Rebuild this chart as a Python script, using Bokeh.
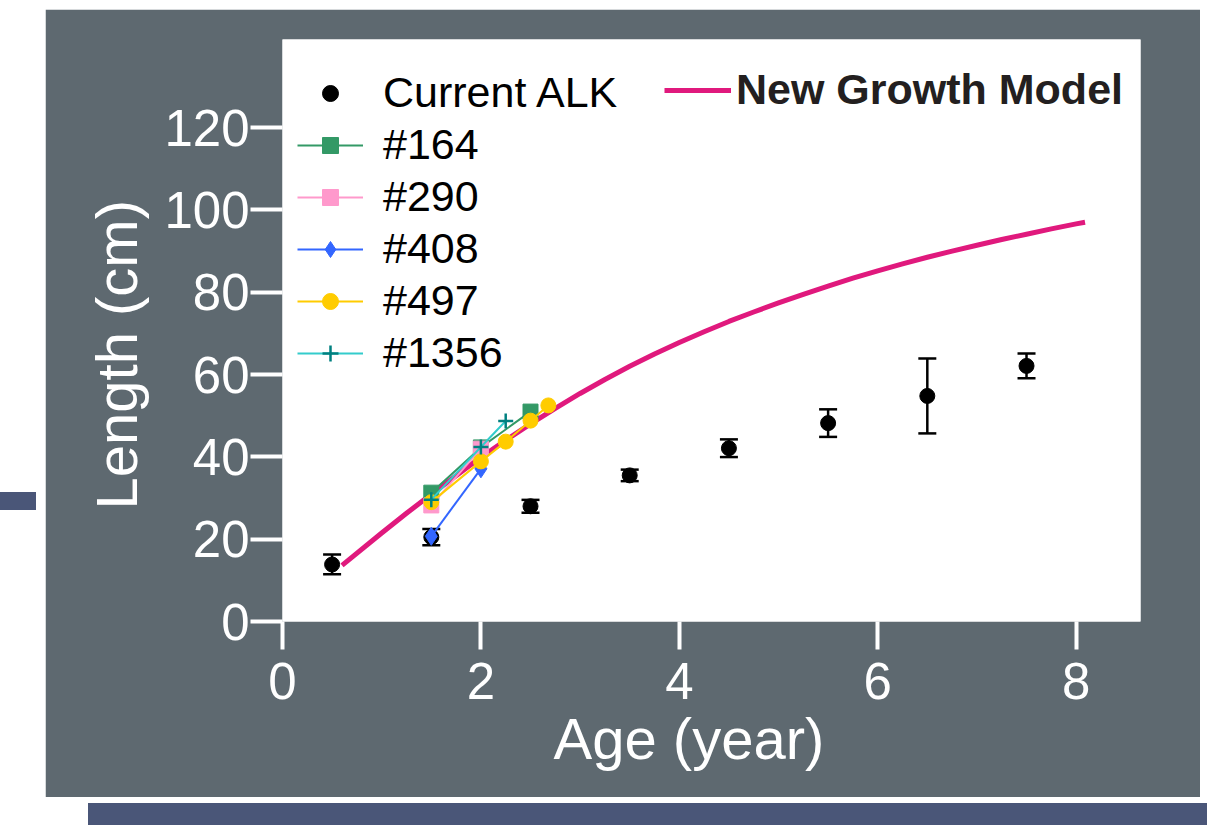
from bokeh.plotting import figure
from bokeh.models import (ColumnDataSource, Whisker, TeeHead, Legend, LegendItem,
                          FixedTicker, Range1d, Spacer, Div, Title)
from bokeh.layouts import column, row
from bokeh.embed import file_html
from bokeh.resources import INLINE

# ---------------- data ----------------
alk_age = [0.5, 1.5, 2.5, 3.5, 4.5, 5.5, 6.5, 7.5]
alk_len = [13.85, 20.5, 28.0, 35.5, 42.1, 48.2, 54.8, 62.1]
alk_err = [2.4, 2.0, 1.55, 1.4, 2.15, 3.35, 9.1, 3.0]

model_age = [0.6, 1.0, 1.25, 1.5, 1.75, 2.0, 2.25, 2.5, 2.75, 3.0, 3.25, 3.5, 3.75, 4.0,
             4.25, 4.5, 4.75, 5.0, 5.25, 5.5, 5.75, 6.0, 6.25, 6.5, 6.75, 7.0, 7.25,
             7.5, 7.75, 8.0, 8.09]
model_len = [13.65, 21.5, 26.3, 30.9, 35.4, 39.9, 44.0, 48.0, 51.8, 55.4, 58.8, 62.0, 65.0, 67.8,
             70.4, 72.9, 75.2, 77.4, 79.5, 81.5, 83.4, 85.2, 86.9, 88.5, 90.0, 91.4, 92.8,
             94.1, 95.4, 96.6, 97.0]

f164_age = [1.5, 2.0, 2.5]
f164_len = [31.3, 42.3, 51.0]
f290_age = [1.5, 2.0]
f290_len = [28.2, 42.0]
f408_age = [1.5, 2.0]
f408_len = [20.7, 37.1]
f497_age = [1.5, 2.0, 2.25, 2.5, 2.68]
f497_len = [29.0, 38.9, 43.7, 48.8, 52.5]
f1356_age = [1.5, 2.0, 2.25]
f1356_len = [29.6, 42.4, 48.7]

x_ticks = [0, 2, 4, 6, 8]
y_ticks = [0, 20, 40, 60, 80, 100, 120]
x_title = "Age (year)"
y_title = "Length (cm)"

# ---------------- style ----------------
GRAY = "#5e6970"
BAR_BLUE = "#4a5678"
MAGENTA = "#e0197d"
FONT = "Liberation Sans"

p = figure(width=1155, height=788, output_backend="svg", toolbar_location=None,
           x_range=Range1d(0, 8.649), y_range=Range1d(0, 141.4),
           border_fill_color=GRAY, background_fill_color="white",
           outline_line_color=None,
           min_border_left=237, min_border_right=60, min_border_top=30, min_border_bottom=176)
p.xgrid.visible = False
p.ygrid.visible = False

for ax, ticks, tout, lstand in ((p.xaxis[0], x_ticks, 28, 13), (p.yaxis[0], y_ticks, 32, 1)):
    ax.ticker = FixedTicker(ticks=ticks)
    ax.axis_line_color = None
    ax.major_tick_line_color = "white"
    ax.major_tick_line_width = 4
    ax.major_tick_in = 0
    ax.major_tick_out = tout
    ax.minor_tick_line_color = None
    ax.major_label_text_color = "white"
    ax.major_label_text_font = FONT
    ax.major_label_text_font_size = "51px"
    ax.major_label_standoff = lstand

# axis titles as side titles (allow an offset along the axis)
p.add_layout(Title(text=x_title, align="left", offset=271, vertical_align="top", standoff=8,
                   text_color="white", text_font=FONT, text_font_size="58px",
                   text_font_style="normal"), "below")
p.add_layout(Title(text=y_title, align="left", offset=112, vertical_align="bottom", standoff=26,
                   text_color="white", text_font=FONT, text_font_size="58px",
                   text_font_style="normal"), "left")

# growth model curve
curve = p.line(model_age, model_len, line_color=MAGENTA, line_width=5, line_join="round")

# Current ALK with error bars
alk_src = ColumnDataSource(dict(x=alk_age, y=alk_len,
                                upper=[v + e for v, e in zip(alk_len, alk_err)],
                                lower=[v - e for v, e in zip(alk_len, alk_err)]))
wh = Whisker(base="x", upper="upper", lower="lower", source=alk_src,
             line_color="black", line_width=2.5, level="underlay",
             upper_head=TeeHead(size=18, line_color="black", line_width=2.5),
             lower_head=TeeHead(size=18, line_color="black", line_width=2.5))
p.add_layout(wh)
alk = p.scatter("x", "y", source=alk_src, marker="circle", size=15, color="black")

# individual fish
series = [
    ("#164", f164_age, f164_len, "#339966", "#339966", "square", 15),
    ("#290", f290_age, f290_len, "#ff99cc", "#ff99cc", "square", 15),
    ("#408", f408_age, f408_len, "#3366ff", "#3366ff", "diamond", 18),
    ("#497", f497_age, f497_len, "#ffcc00", "#ffcc00", "circle", 15),
    ("#1356", f1356_age, f1356_len, "#33cccc", "#008080", "cross", 15),
]
items = [LegendItem(label="Current ALK", renderers=[alk])]
for name, xs, ys, lc, mc, mk, sz in series:
    ln = p.line(xs, ys, line_color=lc, line_width=2)
    if mk == "cross":
        sc = p.scatter(xs, ys, marker=mk, size=sz, line_color=mc, line_width=2.5)
    else:
        sc = p.scatter(xs, ys, marker=mk, size=sz, fill_color=mc, line_color=mc)
    items.append(LegendItem(label=name, renderers=[ln, sc]))

leg1 = Legend(items=items, location=(15, 244), orientation="vertical",
              glyph_width=66, glyph_height=40, label_height=48, spacing=3,
              label_standoff=20, padding=0, margin=0,
              border_line_color=None, background_fill_alpha=0,
              label_text_font=FONT, label_text_font_size="43px", label_text_color="black")
leg2 = Legend(items=[LegendItem(label="New Growth Model", renderers=[curve])],
              location=(382, 507), glyph_width=67, glyph_height=40, label_height=48,
              label_standoff=5, padding=0, margin=0,
              border_line_color=None, background_fill_alpha=0,
              label_text_font=FONT, label_text_font_size="43px",
              label_text_font_style="bold", label_text_color="#231f20")
p.add_layout(leg1)
p.add_layout(leg2)

# page layout with decorative bars
left_bar = Div(width=36, height=18, margin=0, styles={"background-color": BAR_BLUE})
left_col = column(Spacer(width=36, height=483, margin=0), left_bar, width=36, margin=0)
top_row = row(left_col, Spacer(width=9, height=10, margin=0), p, margin=0)
bottom_bar = Div(width=1119, height=22, margin=0, styles={"background-color": BAR_BLUE})
bottom_row = row(Spacer(width=88, height=22, margin=0), bottom_bar, margin=0)
layout = column(Spacer(width=10, height=9, margin=0), top_row,
                Spacer(width=10, height=6, margin=0), bottom_row, margin=0)

open("out.html", "w").write(file_html(layout, INLINE))
